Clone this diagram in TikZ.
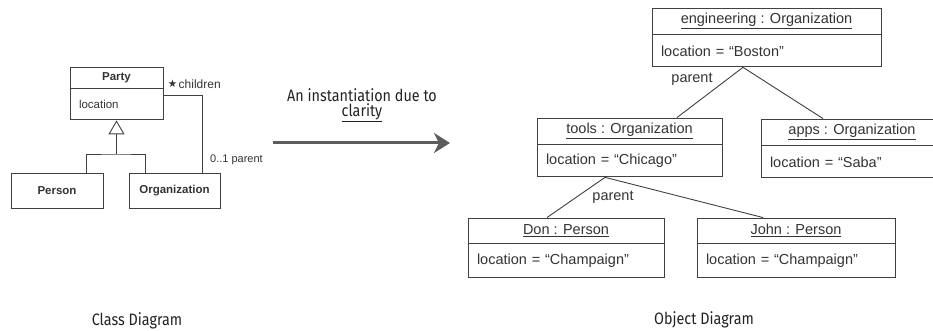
\documentclass[tikz,border=0pt]{standalone}
\usepackage{fontspec}
\setmainfont{Liberation Sans}
\newfontfamily\capfont[FakeStretch=0.87]{Fira Sans}
\newfontfamily\symfont{DejaVu Sans}
\usetikzlibrary{arrows.meta}

\definecolor{linec}{HTML}{404040}
\definecolor{textc}{HTML}{333333}
\definecolor{arrowc}{HTML}{5C5C5C}
\definecolor{capc}{HTML}{222222}

\begin{document}
\begin{tikzpicture}[x=1pt, y=-1pt,
  every node/.style={inner sep=0pt, text=textc},
  umlbox/.style={draw=linec, line width=0.9pt, font=\fontsize{14.5}{17}\selectfont},
  hdr/.style={umlbox, align=center},
  attr/.style={umlbox, align=left, inner xsep=9pt},
  clsbox/.style={draw=linec, line width=0.9pt, font=\fontsize{11.5}{13}\selectfont},
  clsname/.style={clsbox, font=\fontsize{11.5}{13}\selectfont\bfseries},
  clsattr/.style={clsbox, align=left, inner xsep=9pt},
  link/.style={draw=linec, line width=0.9pt},
  small/.style={font=\fontsize{11}{13}\selectfont},
  label/.style={font=\fontsize{14.5}{17}\selectfont},
  caption/.style={font=\capfont\fontsize{16.5}{19}\selectfont, text=capc}
]
\clip (0,0) rectangle (933,331);

% ---------- class diagram ----------
\node[clsname, minimum width=93pt, minimum height=21pt] (PartyT) at (116.5,77.5) {Party};
\node[clsattr, text width=75pt, minimum height=31pt, anchor=north] (PartyA) at (PartyT.south) {location};
\node[clsname, minimum width=92pt, minimum height=35pt] (Person) at (57,190.5) {Person};
\node[clsname, minimum width=91pt, minimum height=35pt] (Org) at (174.5,190.5) {Organization};

% generalization
\coordinate (gj) at (116.5,154);
\draw[link] ([xshift=-17pt]Person.north east) |- (gj) -| ([xshift=17pt]Org.north west);
\draw[link, -{Triangle[open, length=14pt, width=16pt]}] (gj) -- (PartyA.south);

% parent/children association
\draw[link] (PartyA.east |- 0,95) -| ([xshift=-18pt]Org.north east);
\node[font=\symfont\fontsize{10.5}{12}\selectfont] (childStar) at (172.5,84) {★};
\node[font=\fontsize{12}{14}\selectfont, anchor=west] (childLbl) at (178.5,84) {children};
\node[small, anchor=west] (parentLbl) at (210,160) {0..1 parent};

% ---------- transition arrow ----------
\coordinate (arrS) at (273,143);
\coordinate (arrE) at (450,143);
\draw[line width=3pt, draw=arrowc, -{Stealth[length=16pt, width=20pt, inset=5pt]}] (arrS) -- (arrE);
\node[caption] (instLbl) at (362,95) {An instantiation due to};
\node[caption] (clarLbl) at (362,113) {\underline{clarity}};

% ---------- object diagram ----------
\node[hdr, minimum width=229pt, minimum height=26pt] (engT) at (766.5,21) {\underline{engineering : Organization}};
\node[attr, text width=211pt, minimum height=32pt, anchor=north] (engA) at (engT.south) {location = “Boston”};

\node[hdr, minimum width=185pt, minimum height=26pt] (toolsT) at (629.5,131) {\underline{tools : Organization}};
\node[attr, text width=167pt, minimum height=32pt, anchor=north] (toolsA) at (toolsT.south) {location = “Chicago”};

\node[hdr, minimum width=182pt, minimum height=26pt] (appsT) at (852,132) {\underline{apps : Organization}};
\node[attr, text width=164pt, minimum height=32pt, anchor=north] (appsA) at (appsT.south) {location = “Saba”};

\node[hdr, minimum width=196pt, minimum height=25pt] (donT) at (566,230.5) {\underline{Don : Person}};
\node[attr, text width=178pt, minimum height=34pt, anchor=north] (donA) at (donT.south) {location = “Champaign”};

\node[hdr, minimum width=198pt, minimum height=25pt] (johnT) at (796,230.5) {\underline{John : Person}};
\node[attr, text width=180pt, minimum height=34pt, anchor=north] (johnA) at (johnT.south) {location = “Champaign”};

% links
\draw[link] ([xshift=-23.5pt]engA.south) -- ([xshift=47.5pt]toolsT.north);
\draw[link] ([xshift=-23.5pt]engA.south) -- ([xshift=-29pt]appsT.north);
\draw[link] ([xshift=-24.5pt]toolsA.south) -- ([xshift=-19pt]donT.north);
\draw[link] ([xshift=-24.5pt]toolsA.south) -- ([xshift=-33pt]johnT.north);
\node[label] (parent1) at (692,79) {parent};
\node[label] (parent2) at (613,197) {parent};

% ---------- captions ----------
\node[caption] (classCap) at (137,321) {Class Diagram};
\node[caption] (objCap) at (704,320) {Object Diagram};
\end{tikzpicture}
\end{document}
